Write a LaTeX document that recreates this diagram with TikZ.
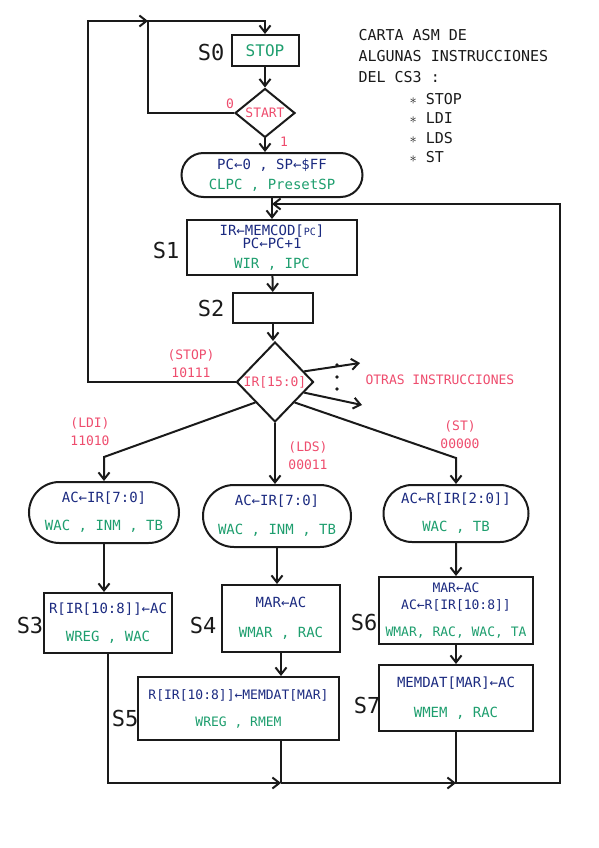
\documentclass[tikz,border=0pt]{standalone}
\usepackage{fontspec}
\setmainfont{DejaVu Sans Mono}
\usepackage{xcolor}
\usepackage{tikz}
\usetikzlibrary{positioning, arrows.meta, shapes.geometric, shapes.misc}
\definecolor{asmBlue}{HTML}{1B2A80}
\definecolor{asmGreen}{HTML}{1E9E6E}
\definecolor{asmRed}{HTML}{EE4D6E}
\definecolor{asmInk}{HTML}{1A1A1A}
\newcommand{\regt}[1]{\textcolor{asmBlue}{#1}}
\newcommand{\ctlt}[1]{\textcolor{asmGreen}{#1}}
\newcommand{\smallreg}[1]{{\fontsize{10}{10}\selectfont #1}}
\tikzset{
  wire/.style={draw=asmInk, line width=2pt},
  flowarrow/.style={wire, -{Straight Barb[length=7pt, width=11pt]}},
  statebox/.style={wire, rectangle, inner sep=1pt, align=center,
    font=\fontsize{14}{16}\selectfont},
  condbox/.style={wire, diamond, inner sep=0pt, text=asmRed,
    font=\fontsize{13}{14}\selectfont},
  outbox/.style={wire, rounded rectangle, inner sep=1pt, align=center,
    font=\fontsize{14}{16}\selectfont},
  statelbl/.style={font=\fontsize{22}{22}\selectfont, text=asmInk},
  codelbl/.style={font=\fontsize{13}{18}\selectfont, text=asmRed, align=center},
  titletxt/.style={font=\fontsize{15}{21}\selectfont, text=asmInk, anchor=west, align=left},
}

\begin{document}
\begin{tikzpicture}[x=1pt, y=-1pt]
  \useasboundingbox (0,0) rectangle (599,848);
  \node[statebox, minimum width=67pt, minimum height=31pt, text=asmGreen,
    font=\fontsize{16}{16}\selectfont] (s0) at (265,50.5) {STOP};
  \node[condbox, minimum width=60pt, minimum height=47pt] (start) at (265,113) {START};
  \node[outbox, minimum width=183pt, minimum height=44pt] (init) at (272,175)
    {\regt{PC←0 , SP←\$FF}\\[4pt] \ctlt{CLPC , PresetSP}};
  \node[statebox, minimum width=170pt, minimum height=55pt] (s1) at (272,247.5)
    {\regt{IR←MEMCOD[\smallreg{PC}]}\\[-3pt] \regt{PC←PC+1}\\[4pt] \ctlt{WIR , IPC}};
  \node[statebox, minimum width=80pt, minimum height=30pt] (s2) at (273,308) {};
  \node[condbox, minimum width=77pt, minimum height=80pt] (ir) at (275,382) {IR[15:0]};
  \node[outbox, minimum width=152pt, minimum height=61pt] (ldi) at (104,512.5)
    {\regt{AC←IR[7:0]}\\[12pt] \ctlt{WAC , INM , TB}};
  \node[outbox, minimum width=150pt, minimum height=62pt] (lds) at (277,516)
    {\regt{AC←IR[7:0]}\\[13pt] \ctlt{WAC , INM , TB}};
  \node[outbox, minimum width=147pt, minimum height=57pt] (st) at (456,513.5)
    {\regt{AC←R[IR[2:0]]}\\[12pt] \ctlt{WAC , TB}};
  \node[statebox, minimum width=128pt, minimum height=60pt] (s3) at (108,623)
    {\regt{R[IR[10:8]]←AC}\\[12pt] \ctlt{WREG , WAC}};
  \node[statebox, minimum width=118pt, minimum height=67pt] (s4) at (281,618.5)
    {\regt{MAR←AC}\\[14pt] \ctlt{WMAR , RAC}};
  \node[statebox, minimum width=201pt, minimum height=63pt,
    font=\fontsize{13}{15}\selectfont] (s5) at (238.5,708.5)
    {\regt{R[IR[10:8]]←MEMDAT[MAR]}\\[12pt] \ctlt{WREG , RMEM}};
  \node[statebox, minimum width=154pt, minimum height=67pt,
    font=\fontsize{13}{15}\selectfont] (s6) at (456,610.5)
    {\regt{MAR←AC}\\[2pt] \regt{AC←R[IR[10:8]]}\\[12pt] \ctlt{WMAR, RAC, WAC, TA}};
  \node[statebox, minimum width=154pt, minimum height=66pt] (s7) at (456,698)
    {\regt{MEMDAT[MAR]←AC}\\[14pt] \ctlt{WMEM , RAC}};

  \node[statelbl] (ls0) at (211,52) {S0};
  \node[statelbl] (ls1) at (166,250) {S1};
  \node[statelbl] (ls2) at (211,308) {S2};
  \node[statelbl] (ls3) at (30,625) {S3};
  \node[statelbl] (ls4) at (203,625) {S4};
  \node[statelbl] (ls5) at (125,718) {S5};
  \node[statelbl] (ls6) at (364,622) {S6};
  \node[statelbl] (ls7) at (367,705) {S7};

  \node[codelbl] (l0) at (230,104) {0};
  \node[codelbl] (l1) at (284,142) {1};
  \node[codelbl] (cstop) at (191,364) {(STOP)\\10111};
  \node[codelbl] (cldi) at (90,432) {(LDI)\\11010};
  \node[codelbl] (clds) at (308,456) {(LDS)\\00011};
  \node[codelbl] (cst) at (460,435) {(ST)\\00000};
  \node[codelbl, anchor=west] (otras) at (362,380) {OTRAS INSTRUCCIONES};

  \node[titletxt] (title) at (355,56) {CARTA ASM DE\\ALGUNAS INSTRUCCIONES\\DEL CS3 :};
  \node[titletxt, font=\fontsize{15}{19.5}\selectfont] (list) at (406,128)
    {$\ast$ STOP\\$\ast$ LDI\\$\ast$ LDS\\$\ast$ ST};

  \coordinate (loopin) at (148,21);
  \coordinate (loopout) at (88,21);
  \coordinate (back) at (272,204);
  \coordinate (rtop) at (560,204);
  \coordinate (kldi) at (104,457);
  \coordinate (kst) at (456,458);
  \coordinate (otr1) at (360,363);
  \coordinate (otr2) at (362,405);
  \coordinate (join1) at (281,783);
  \coordinate (join2) at (456,783);
  \coordinate (rbot) at (560,783);

  \draw[flowarrow] (start.west) -| (loopin) -| (s0.north);
  \draw[flowarrow] (ir.west) -| (loopout) -- (loopin);
  \draw[flowarrow] (s0) -- (start);
  \draw[flowarrow] (start.south) -- (start.south |- init.north);
  \draw[flowarrow] (init) -- (s1);
  \draw[flowarrow] (s1) -- (s2);
  \draw[flowarrow] (s2.south) -- (s2.south |- ir.north);
  \draw[flowarrow] (ir.south west) -- (kldi) -- (ldi);
  \draw[flowarrow] (ir.south) -- (ir.south |- lds.north);
  \draw[flowarrow] (ir.south east) -- (kst) -- (st);
  \draw[flowarrow] (ir.20) -- (otr1);
  \draw[flowarrow] (ir.-20) -- (otr2);
  \foreach \yy in {365,377,389}
    \fill[asmInk] (337,\yy) circle (1.8pt);
  \draw[flowarrow] (ldi.south) -- (ldi.south |- s3.north);
  \draw[flowarrow] (lds.south) -- (lds.south |- s4.north);
  \draw[flowarrow] (s4.south) -- (s4.south |- s5.north);
  \draw[flowarrow] (st) -- (s6);
  \draw[flowarrow] (s6) -- (s7);
  \draw[flowarrow] (s3.south) |- (join1);
  \draw[wire] (s5.south -| join1) -- (join1);
  \draw[flowarrow] (join1) -- (join2);
  \draw[flowarrow] (s7.south) -- (join2) -- (rbot) -- (rtop) -- (back);
\end{tikzpicture}
\end{document}
